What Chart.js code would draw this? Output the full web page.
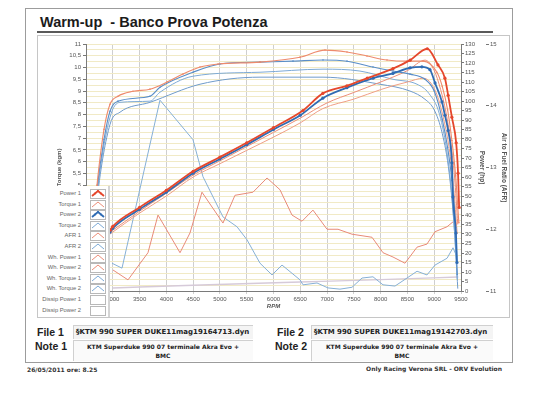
<!DOCTYPE html>
<html>
<head>
<meta charset="utf-8">
<script src="https://cdn.jsdelivr.net/npm/chart.js@4/dist/chart.umd.min.js"></script>
<style>
  body { margin:0; width:545px; height:396px; background:#fff; position:relative; overflow:hidden;
         font-family:"Liberation Sans", Arial, sans-serif; }
  .abs { position:absolute; }
  #outer { left:25px; top:8px; width:488px; height:355px; border:1.5px solid #9c9c9c; box-sizing:border-box; }
  #title { left:40px; top:14px; font:bold 14.5px "Liberation Sans", Arial, sans-serif; color:#1b1b1b; white-space:pre; }
  #rule { left:37px; top:31px; width:456px; height:1.5px; background:#5a5a5a; }
  #frame { left:37px; top:35px; width:473px; height:283px; border:1px solid #c6c6c6; box-sizing:border-box; }
  #wrap { left:56px; top:35px; width:452px; height:275px; }
  #legend { left:39px; top:186px; width:71px; height:131px; background:#fff; border-right:2px solid #d4d4d4; box-sizing:border-box; }
  .lg { position:absolute; left:0; width:100%; height:10px; }
  .lg span { position:absolute; right:27px; top:1px; font-size:5.8px; color:#666; white-space:nowrap; }
  .lg svg { position:absolute; left:51px; top:0; }
  .lbl { font:bold 10.5px "Liberation Sans", Arial, sans-serif; color:#222; white-space:nowrap; }
  .box { background:#f4f4f4; border-top:1px solid #d0d0d0; border-left:1px solid #d0d0d0; box-sizing:border-box; }
  .fname { font:bold 7px "DejaVu Sans", sans-serif; color:#222; white-space:nowrap; }
  .note { font:bold 6px "DejaVu Sans", sans-serif; color:#222; text-align:center; line-height:9px; }
  .small { font:bold 6px "DejaVu Sans", sans-serif; color:#333; white-space:nowrap; }
</style>
</head>
<body>
<div id="outer" class="abs"></div>
<div id="title" class="abs">Warm-up  - Banco Prova Potenza</div>
<div id="rule" class="abs"></div>
<div id="frame" class="abs"></div>
<div id="wrap" class="abs"><canvas id="dyno" width="452" height="275"></canvas></div>
<div id="legend" class="abs"></div>

<div class="abs lbl" style="left:37px;top:326px;">File 1</div>
<div class="abs box" style="left:73px;top:325px;width:180px;height:14px;"></div>
<div class="abs fname" style="left:76px;top:328px;">§KTM 990 SUPER DUKE11mag19164713.dyn</div>
<div class="abs lbl" style="left:35px;top:340px;">Note 1</div>
<div class="abs box" style="left:73px;top:340px;width:180px;height:21px;background:#fafafa;"></div>
<div class="abs note" style="left:73px;top:342px;width:180px;">KTM Superduke 990 07 terminale Akra Evo +<br>BMC</div>

<div class="abs lbl" style="left:277px;top:326px;">File 2</div>
<div class="abs box" style="left:311px;top:325px;width:182px;height:14px;"></div>
<div class="abs fname" style="left:314px;top:328px;">§KTM 990 SUPER DUKE11mag19142703.dyn</div>
<div class="abs lbl" style="left:275px;top:340px;">Note 2</div>
<div class="abs box" style="left:311px;top:340px;width:182px;height:21px;background:#fafafa;"></div>
<div class="abs note" style="left:311px;top:342px;width:182px;">KTM Superduke 990 07 terminale Akra Evo +<br>BMC</div>

<div class="abs small" style="left:27px;top:366px;">26/05/2011 ore: 8.25</div>
<div class="abs small" style="right:43px;top:365px;">Only Racing Verona SRL - ORV Evolution</div>

<script>
// rpm / value pairs
const power1Rpm = [2950, 3000, 3500, 4000, 4500, 5000, 5500, 6000, 6550, 6920, 7370, 7750, 8230, 8550, 8870, 9070, 9200, 9260, 9330, 9410, 9445, 9465];
const power1Hp  = [32, 34, 44, 53, 63, 70.5, 78, 86, 95, 104, 108, 112, 117, 121.5, 127.5, 119, 112, 103, 91.5, 78, 62, 44];

const power2Rpm = [2950, 3000, 3500, 4000, 4500, 5000, 5500, 6000, 6500, 6920, 7370, 7860, 8230, 8550, 8770, 8920, 9015, 9145, 9200, 9260, 9330, 9350, 9405, 9425];
const power2Hp  = [31, 33, 43, 52, 62, 69.5, 77, 85, 92.5, 101.5, 107, 112, 114.5, 117.5, 118, 116.5, 109.5, 99.5, 92.5, 84.5, 67.5, 49.5, 30.5, 15];

const whPower1Rpm = [2950, 3500, 4000, 4500, 5000, 5500, 6000, 6500, 7000, 7500, 8000, 8500, 8830, 9000, 9120, 9220, 9300, 9380, 9440];
const whPower1Hp  = [31, 42, 51.5, 61, 68.5, 76, 83.5, 91, 99, 104.5, 110, 116, 121.5, 116, 106, 94, 80, 60, 35];

const whPower2Rpm = [2950, 3500, 4000, 4500, 5000, 5500, 6000, 6500, 6920, 7500, 8000, 8230, 8500, 8800, 8950, 9080, 9180, 9280, 9360, 9430];
const whPower2Hp  = [30, 41, 50, 60, 67, 74, 81, 88.5, 96, 101, 106, 108, 110, 112, 109, 101, 90, 75, 55, 30];

const torque1Rpm = [2650, 2705, 2836, 2948, 3097, 3377, 3694, 4012, 4311, 4628, 4964, 5748, 6495, 6961, 7372, 7745, 8119, 8492, 8791, 9050, 9150, 9250, 9330, 9400, 9460];
const torque1Kgm = [3.6, 5.0, 7.37, 8.44, 8.78, 8.99, 9.08, 9.38, 9.72, 10.02, 10.15, 10.23, 10.44, 10.74, 10.66, 10.49, 10.32, 10.27, 10.27, 9.8, 9.2, 8.2, 6.9, 5.4, 3.4];

const torque2Rpm = [2650, 2705, 2836, 2948, 3097, 3694, 3881, 4497, 5001, 5748, 6364, 6924, 7372, 7857, 8231, 8548, 8828, 9000, 9150, 9250, 9330, 9400, 9430];
const torque2Kgm = [3.4, 4.81, 6.94, 8.14, 8.57, 8.78, 9.16, 9.8, 10.15, 10.23, 10.27, 10.32, 10.27, 10.02, 9.85, 9.72, 9.5, 9.0, 7.8, 6.6, 5.2, 3.2, 1.2];

const whTorque1Rpm = [2650, 2705, 2948, 3134, 3694, 3881, 4497, 5748, 6924, 7614, 8231, 8679, 8900, 9100, 9250, 9350, 9430];
const whTorque1Kgm = [3.2, 4.6, 7.88, 8.52, 8.57, 8.95, 9.63, 9.8, 9.93, 9.85, 9.5, 9.29, 8.9, 8.0, 6.2, 4.0, 1.0];

const whTorque2Rpm = [2650, 2705, 2948, 3134, 3694, 4628, 5748, 6924, 7988, 8548, 8828, 9000, 9150, 9280, 9380, 9440];
const whTorque2Kgm = [3.0, 4.38, 7.58, 8.1, 8.52, 9.29, 9.59, 9.59, 9.29, 9.0, 8.65, 8.2, 7.2, 5.5, 3.0, 0.6];

const afr1Rpm = [3004, 3284, 3657, 3844, 4255, 4441, 4665, 5057, 5281, 5617, 5879, 6121, 6345, 6532, 6737, 6999, 7204, 7465, 7839, 8044, 8231, 8455, 8679, 8865, 9015, 9239, 9351];
const afr1Val = [11.34, 11.18, 11.62, 12.23, 11.62, 11.94, 12.6, 12.1, 12.55, 12.6, 12.83, 12.64, 12.23, 12.13, 12.31, 12.0, 12.0, 11.92, 11.87, 11.62, 11.55, 11.45, 11.71, 11.76, 11.96, 12.04, 12.12];

const afr2Rpm = [2985, 3172, 3881, 4497, 4684, 5057, 5319, 5505, 5748, 5972, 6159, 6495, 6551, 6812, 7017, 7241, 7465, 7652, 7857, 8044, 8268, 8492, 8679, 8865, 9015, 9239, 9351, 9425];
const afr2Val = [11.45, 11.37, 14.09, 13.45, 12.85, 12.2, 12.04, 11.83, 11.45, 11.26, 11.42, 11.18, 11.1, 11.13, 11.05, 11.03, 11.06, 11.21, 11.23, 11.1, 11.08, 11.21, 11.32, 11.26, 11.42, 11.53, 11.7, 11.55];

const dissipRpm = [3000, 4500, 6500, 8000, 9450];
const dissipHp  = [1.6, 3.0, 4.7, 6.0, 7.4];

const legendLabels = ["Power 1", "Torque 1", "Power 2", "Torque 2", "AFR 1", "AFR 2",
                      "Wh. Power 1", "Wh. Power 2", "Wh. Torque 1", "Wh. Torque 2", "Dissip Power 1", "Dissip Power 2"];

const RED = '#e5472c', RED_L = '#ec8d78', BLUE = '#2f6bb3', BLUE_L = '#7daad6', BLUE_M = '#5a8ec8';

function pts(xs, ys) { return xs.map((x, i) => ({ x: x, y: ys[i] })); }

// legend swatches (html, sits over the lower-left corner like the original)
const swatch = [
  [RED, 1.8, true], [RED_L, 1, false], [BLUE, 1.8, true], [BLUE_L, 1, false],
  [RED_L, 1, false], [BLUE_L, 1, false], [RED_L, 1, false], [RED_L, 1, false],
  [BLUE_L, 1, false], [BLUE_L, 1, false], [null], [null]
];
const legendEl = document.getElementById('legend');
legendLabels.forEach((name, i) => {
  const row = document.createElement('div');
  row.className = 'lg';
  row.style.top = (3 + i * 10.6) + 'px';
  const s = swatch[i];
  let inner = '';
  if (s[0]) {
    inner = `<polyline points="2,7 8,2 14,7" fill="none" stroke="${s[0]}" stroke-width="${s[1]}"/>`;
    if (s[2]) inner += `<circle cx="5" cy="4.5" r="1" fill="${s[0]}"/><circle cx="8" cy="2" r="1" fill="${s[0]}"/><circle cx="11" cy="4.5" r="1" fill="${s[0]}"/>`;
  }
  row.innerHTML = `<span>${name}</span><svg width="16" height="10"><rect x="0.5" y="0.5" width="15" height="9" fill="#fff" stroke="#b8b8b8"/>${inner}</svg>`;
  legendEl.appendChild(row);
});

Chart.defaults.font.family = '"Liberation Sans", Arial, sans-serif';
Chart.defaults.font.size = 6;
Chart.defaults.color = '#555';

function line(label, xs, ys, axis, color, width, radius, extra) {
  return Object.assign({
    label: label, data: pts(xs, ys), yAxisID: axis,
    borderColor: color, backgroundColor: color, borderWidth: width,
    pointRadius: radius, pointBorderWidth: 0, pointBackgroundColor: color,
    cubicInterpolationMode: 'monotone', fill: false
  }, extra || {});
}

new Chart(document.getElementById('dyno'), {
  type: 'line',
  data: {
    datasets: [
      line('Power 1', power1Rpm, power1Hp, 'yP', RED, 1.8, 1.6),
      line('Power 2', power2Rpm, power2Hp, 'yP', BLUE, 1.8, 1.6),
      line('Torque 1', torque1Rpm, torque1Kgm, 'yT', '#ee8a6c', 1.1, 0.8),
      line('Torque 2', torque2Rpm, torque2Kgm, 'yT', BLUE_M, 1.1, 0.8),
      line('Wh. Power 1', whPower1Rpm, whPower1Hp, 'yP', RED_L, 1, 0),
      line('Wh. Power 2', whPower2Rpm, whPower2Hp, 'yP', '#ef9f86', 1, 0),
      line('Wh. Torque 1', whTorque1Rpm, whTorque1Kgm, 'yT', BLUE_L, 1, 0),
      line('Wh. Torque 2', whTorque2Rpm, whTorque2Kgm, 'yT', '#6f9bcb', 1, 0),
      line('AFR 1', afr1Rpm, afr1Val, 'yA', '#e88a78', 1, 0, { cubicInterpolationMode: 'default', tension: 0 }),
      line('AFR 2', afr2Rpm, afr2Val, 'yA', '#86b0d6', 1, 0, { cubicInterpolationMode: 'default', tension: 0 }),
      line('Dissip Power 1', dissipRpm, dissipHp, 'yP', '#d6cad9', 1.4, 0)
    ]
  },
  options: {
    responsive: false,
    animation: false,
    layout: { padding: { top: 9, left: 0, right: 0, bottom: 0 } },
    plugins: { legend: { display: false }, tooltip: { enabled: false } },
    scales: {
      x: {
        type: 'linear', min: 2500, max: 9500,
        ticks: { stepSize: 500, maxRotation: 0, autoSkip: false, padding: 2, callback: v => String(v) },
        grid: { color: '#cfcfcf', tickLength: 3 },
        border: { color: '#7a7a7a' },
        title: { display: true, text: 'RPM', padding: 0, font: { size: 6, weight: 'bold', style: 'italic' } },
        afterFit: s => { s.height = 19; }
      },
      yT: {
        position: 'left', min: 0.5, max: 11, weight: 0,
        ticks: {
          stepSize: 0.25, autoSkip: false, padding: 2,
          callback: v => (Math.round(v * 4) % 2 === 0) ? String(v).replace('.', ',') : ''
        },
        grid: {
          color: '#f1eac6', tickLength: 3,
          tickColor: c => (Math.round(c.tick.value * 4) % 2 === 0) ? '#777' : 'rgba(0,0,0,0)'
        },
        border: { color: '#7a7a7a' },
        title: { display: true, text: 'Torque (kgm)', padding: 0, font: { size: 6, weight: 'bold' } },
        afterFit: s => { s.width = 30; }
      },
      yP: {
        position: 'right', min: 0, max: 130, weight: 0,
        ticks: { stepSize: 5, autoSkip: false, padding: 1 },
        grid: { drawOnChartArea: false, tickLength: 3, tickColor: '#777' },
        border: { color: '#7a7a7a' },
        title: { display: true, text: 'Power (hp)', padding: 0, font: { size: 6.5, weight: 'bold' } },
        afterFit: s => { s.width = 25; }
      },
      yA: {
        position: 'right', min: 11, max: 15, weight: 1,
        ticks: { stepSize: 1, padding: 1 },
        grid: { drawOnChartArea: false, tickLength: 3, tickColor: '#777' },
        border: { display: false },
        title: { display: true, text: 'Air to Fuel Ratio (AFR)', padding: 0, font: { size: 6.5, weight: 'bold' } },
        afterFit: s => { s.width = 22; }
      }
    }
  }
});
</script>
</body>
</html>
